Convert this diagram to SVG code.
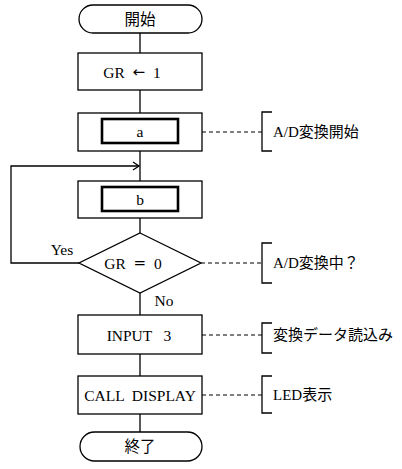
<svg xmlns="http://www.w3.org/2000/svg" width="402" height="469" viewBox="0 0 402 469">
<style>
.s{fill:#fff;stroke:#000;stroke-width:1.3}
.in{fill:#fff;stroke:#000;stroke-width:2.6}
.t{font-family:"Liberation Serif","Noto Sans CJK JP",serif;font-size:15.5px;fill:#000;text-anchor:middle;dominant-baseline:central;white-space:pre}
.j{font-family:"Liberation Serif","Noto Sans CJK JP",serif;font-size:15px;fill:#000;dominant-baseline:central}
.ar{font-family:"DejaVu Sans",sans-serif;font-size:15px}
.c{fill:none;stroke:#000;stroke-width:1.3}
.d{fill:none;stroke:#000;stroke-width:1.2;stroke-dasharray:4 3}
</style>
<g id="connectors">
<line class="c" x1="140" y1="33" x2="140" y2="53"/>
<line class="c" x1="140" y1="90" x2="140" y2="113"/>
<line class="c" x1="140" y1="151" x2="140" y2="181"/>
<line class="c" x1="140" y1="218" x2="140" y2="233"/>
<line class="c" x1="140" y1="293" x2="140" y2="315"/>
<line class="c" x1="140" y1="354" x2="140" y2="376"/>
<line class="c" x1="140" y1="414" x2="140" y2="432"/>
<polyline class="c" points="79,263 11,263 11,166 139,166"/>
<polyline class="c" points="133,162 139,166 133,170"/>
<line class="d" x1="202" y1="132" x2="262" y2="132"/>
<line class="d" x1="201" y1="263" x2="262" y2="263"/>
<line class="d" x1="202" y1="335" x2="262" y2="335"/>
<line class="d" x1="202" y1="395" x2="262" y2="395"/>
<text class="t" x="62" y="249">Yes</text>
<text class="t" x="164" y="300">No</text>
</g>
<g id="start"><rect class="s" x="79" y="5" width="123" height="28" rx="14"/><text class="t" x="140" y="19">開始</text></g>
<g id="init"><rect class="s" x="78" y="53" width="124" height="37"/><text class="t" x="132" y="72">GR  <tspan class="ar">←</tspan>  1</text></g>
<g id="a"><rect class="s" x="78" y="113" width="124" height="38"/><rect class="in" x="102" y="119" width="76" height="24"/><text class="t" x="140" y="131">a</text></g>
<g id="b"><rect class="s" x="78" y="181" width="124" height="37"/><rect class="in" x="102" y="187" width="76" height="24"/><text class="t" x="140" y="199">b</text></g>
<g id="cond"><polygon class="s" points="140,233 201,263 140,293 79,263"/><text class="t" x="133" y="263">GR  <tspan class="ar">=</tspan>  0</text></g>
<g id="input"><rect class="s" x="78" y="315" width="124" height="39"/><text class="t" x="139" y="335">INPUT   3</text></g>
<g id="call"><rect class="s" x="78" y="376" width="124" height="38"/><text class="t" x="140" y="395">CALL  DISPLAY</text></g>
<g id="end"><rect class="s" x="80" y="432" width="122" height="29" rx="14.5"/><text class="t" x="140" y="446.5">終了</text></g>
<g id="note1"><polyline class="c" points="272,112 262,112 262,151 272,151"/><text class="j" x="273" y="132">A/D変換開始</text></g>
<g id="note2"><polyline class="c" points="272,243 262,243 262,283 272,283"/><text class="j" x="273" y="263">A/D変換中？</text></g>
<g id="note3"><polyline class="c" points="272,323 262,323 262,353 272,353"/><text class="j" x="273" y="335">変換データ読込み</text></g>
<g id="note4"><polyline class="c" points="272,376 262,376 262,413 272,413"/><text class="j" x="273" y="395">LED表示</text></g>
</svg>
